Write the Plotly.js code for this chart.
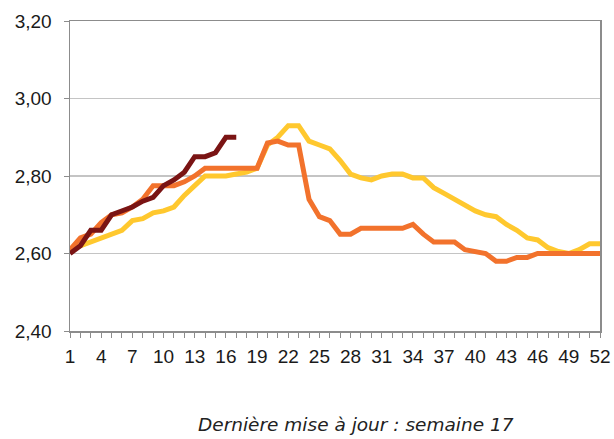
<!DOCTYPE html>
<html>
<head>
<meta charset="utf-8">
<script src="https://cdn.plot.ly/plotly-3.0.1.min.js"></script>
<style>html,body{margin:0;padding:0;background:#fff;}#chart{width:614px;height:439px;}</style>
</head>
<body>
<div id="chart"></div>
<script>
// Weeks 1..52
const weeks = Array.from({length: 52}, (_, i) => i + 1);
const tickWeeks = [1, 4, 7, 10, 13, 16, 19, 22, 25, 28, 31, 34, 37, 40, 43, 46, 49, 52];

// Yellow series (full year)
const seriesYellow = [
  2.61, 2.62, 2.63, 2.64, 2.65, 2.66, 2.685, 2.69, 2.705, 2.71,
  2.72, 2.75, 2.775, 2.80, 2.80, 2.80, 2.805, 2.81, 2.82, 2.88,
  2.90, 2.93, 2.93, 2.89, 2.88, 2.87, 2.84, 2.805, 2.795, 2.79,
  2.80, 2.805, 2.805, 2.795, 2.795, 2.77, 2.755, 2.74, 2.725, 2.71,
  2.70, 2.695, 2.675, 2.66, 2.64, 2.635, 2.615, 2.605, 2.60, 2.61,
  2.625, 2.625
];

// Orange series (full year)
const seriesOrange = [
  2.61, 2.64, 2.65, 2.68, 2.70, 2.705, 2.72, 2.74, 2.775, 2.775,
  2.775, 2.785, 2.80, 2.82, 2.82, 2.82, 2.82, 2.82, 2.82, 2.885,
  2.89, 2.88, 2.88, 2.74, 2.695, 2.685, 2.65, 2.65, 2.665, 2.665,
  2.665, 2.665, 2.665, 2.675, 2.65, 2.63, 2.63, 2.63, 2.61, 2.605,
  2.60, 2.58, 2.58, 2.59, 2.59, 2.60, 2.60, 2.60, 2.60, 2.60,
  2.60, 2.60
];

// Dark red series (current year, up to week 17)
const weeksCurrent = weeks.slice(0, 17);
const seriesDarkRed = [
  2.60, 2.62, 2.66, 2.66, 2.70, 2.71, 2.72, 2.735, 2.745, 2.775,
  2.79, 2.81, 2.85, 2.85, 2.86, 2.90, 2.90
];

const footerText = 'Dernière mise à jour : semaine 17';

const traces = [
  {x: weeks, y: seriesYellow, type: 'scatter', mode: 'lines',
   line: {color: '#FFC82E', width: 5}, hoverinfo: 'skip'},
  {x: weeks, y: seriesOrange, type: 'scatter', mode: 'lines',
   line: {color: '#F2722C', width: 5}, hoverinfo: 'skip'},
  {x: weeksCurrent, y: seriesDarkRed, type: 'scatter', mode: 'lines',
   line: {color: '#7A1414', width: 5}, hoverinfo: 'skip'}
];

const layout = {
  width: 614, height: 439,
  margin: {l: 70, r: 14, t: 21, b: 108},
  paper_bgcolor: '#ffffff', plot_bgcolor: '#ffffff',
  showlegend: false,
  separators: ',.',
  font: {family: 'Liberation Sans, Arial, sans-serif', size: 19, color: '#1a1a1a'},
  xaxis: {
    range: [1, 52], tickmode: 'array', tickvals: tickWeeks,
    ticktext: tickWeeks.map(String),
    showgrid: false, zeroline: false,
    showline: true, linecolor: '#8c8c8c', linewidth: 1.5, mirror: true,
    ticks: 'outside', ticklen: 5, tickcolor: '#8c8c8c', tickwidth: 1,
    minor: {dtick: 1, tick0: 1, ticks: 'outside', ticklen: 5, tickcolor: '#8c8c8c', tickwidth: 1, showgrid: false},
    ticklabelstandoff: 3,
    tickfont: {size: 19}
  },
  yaxis: {
    range: [2.4, 3.2], dtick: 0.2, tick0: 2.4, tickformat: '.2f',
    showgrid: true, gridcolor: '#c4c4c4', gridwidth: 1.5,
    zeroline: false,
    showline: true, linecolor: '#8c8c8c', linewidth: 1.5, mirror: true,
    ticks: 'outside', ticklen: 5, tickcolor: '#8c8c8c', tickwidth: 1,
    ticklabelstandoff: 8,
    tickfont: {size: 19}
  },
  annotations: [{
    text: footerText, xref: 'paper', yref: 'paper',
    x: 0.54, y: -0.303, xanchor: 'center', yanchor: 'middle', showarrow: false,
    font: {family: 'DejaVu Sans, sans-serif', size: 18.5, color: '#222222', style: 'italic'}
  }]
};

Plotly.newPlot('chart', traces, layout, {staticPlot: true, displayModeBar: false});
</script>
</body>
</html>
